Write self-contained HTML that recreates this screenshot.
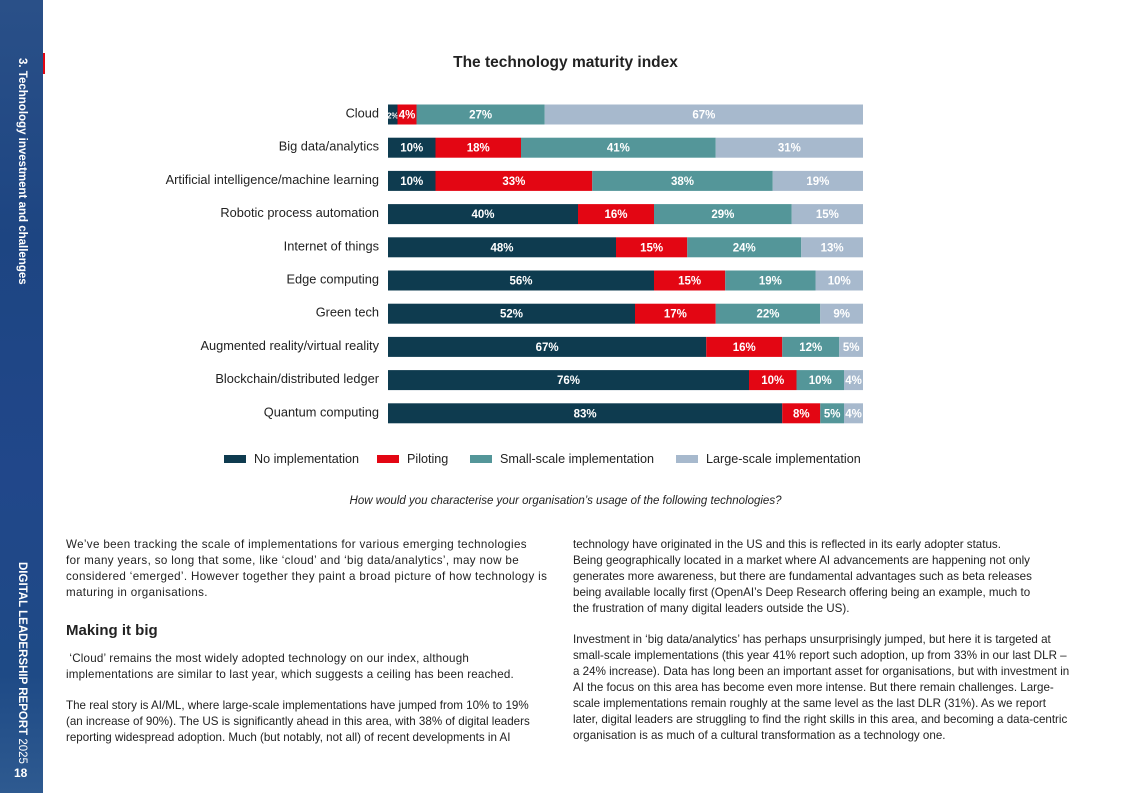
<!DOCTYPE html>
<html><head><meta charset="utf-8">
<style>
body{margin:0;width:1121px;height:793px;overflow:hidden;background:#fff;font-family:"Liberation Sans",sans-serif;color:#222;position:relative}
.side{position:absolute;left:0;top:0;width:43px;height:793px;background:linear-gradient(180deg,#2a5088 0%,#1d4582 30%,#21478a 60%,#1e4a86 85%,#2e5a90 100%)}
.vt{position:absolute;color:#fff;font-weight:bold;font-size:11.5px;writing-mode:vertical-rl;white-space:nowrap}
.p{position:absolute;font-size:11.6px;line-height:16px;color:#222}
.nw{white-space:nowrap}
</style></head><body>
<div class="side"></div>
<div class="vt" style="left:16px;top:58px">3. Technology investment and challenges</div>
<div class="vt" style="left:16px;top:562px">DIGITAL LEADERSHIP REPORT <span style="font-weight:normal">2025</span></div>
<div style="position:absolute;left:14px;top:766px;color:#fff;font-weight:bold;font-size:12px">18</div>
<div style="position:absolute;left:43px;top:53px;width:2px;height:21px;background:#e30613"></div>
<div style="position:absolute;left:0;width:1121px;top:54px;text-align:center;font-weight:bold;font-size:15.5px;padding-left:10px;box-sizing:border-box">The technology maturity index</div>
<svg id="chart" style="position:absolute;left:0;top:0" width="1121" height="480"></svg>
<div style="position:absolute;left:0;width:1121px;top:495px;text-align:center;font-style:italic;font-size:11.5px;padding-left:10px;box-sizing:border-box">How would you characterise your organisation’s usage of the following technologies?</div>
<div class="p nw" style="left:66px;top:537px;letter-spacing:0.35px">We’ve been tracking the scale of implementations for various emerging technologies<br>for many years, so long that some, like ‘cloud’ and ‘big data/analytics’, may now be<br>considered ‘emerged’. However together they paint a broad picture of how technology is<br>maturing in organisations.</div>
<div style="position:absolute;left:66px;top:622px;font-weight:bold;font-size:15px">Making it big</div>
<div class="p nw" style="left:66px;top:651px;letter-spacing:0.2px">&nbsp;‘Cloud’ remains the most widely adopted technology on our index, although<br>implementations are similar to last year, which suggests a ceiling has been reached.</div>
<div class="p nw" style="left:66px;top:698px">The real story is AI/ML, where large-scale implementations have jumped from 10% to 19%<br>(an increase of 90%). The US is significantly ahead in this area, with 38% of digital leaders<br>reporting widespread adoption. Much (but notably, not all) of recent developments in AI</div>
<div class="p nw" style="left:573px;top:537px">technology have originated in the US and this is reflected in its early adopter status.<br>Being geographically located in a market where AI advancements are happening not only<br>generates more awareness, but there are fundamental advantages such as beta releases<br>being available locally first (OpenAI’s Deep Research offering being an example, much to<br>the frustration of many digital leaders outside the US).</div>
<div class="p" style="left:573px;top:632px;width:500px">Investment in ‘big data/analytics’ has perhaps unsurprisingly jumped, but here it is targeted at small-scale implementations (this year 41% report such adoption, up from 33% in our last DLR – a 24% increase). Data has long been an important asset for organisations, but with investment in AI the focus on this area has become even more intense. But there remain challenges. Large-scale implementations remain roughly at the same level as the last DLR (31%). As we report later, digital leaders are struggling to find the right skills in this area, and becoming a data-centric organisation is as much of a cultural transformation as a technology one.</div>
<script>
const categories=["Cloud","Big data/analytics","Artificial intelligence/machine learning","Robotic process automation","Internet of things","Edge computing","Green tech","Augmented reality/virtual reality","Blockchain/distributed ledger","Quantum computing"];
const noImpl=[2,10,10,40,48,56,52,67,76,83];
const piloting=[4,18,33,16,15,15,17,16,10,8];
const smallScale=[27,41,38,29,24,19,22,12,10,5];
const largeScale=[67,31,19,15,13,10,9,5,4,4];
const seriesNames=["No implementation","Piloting","Small-scale implementation","Large-scale implementation"];
const colors=["#0e3b4f","#e30613","#549699","#a7b9cd"];
const svg=document.getElementById('chart');
const NS='http://www.w3.org/2000/svg';
const x0=388,x1=863,y0=104.5,step=33.2,bh=20;
const xs=v=>x0+v/100*(x1-x0);
const yb=i=>y0+i*step;
const series=[noImpl,piloting,smallScale,largeScale];
categories.forEach((c,i)=>{
  const t=document.createElementNS(NS,'text');
  t.setAttribute('x',379);t.setAttribute('y',yb(i)+bh/2+3);t.setAttribute('text-anchor','end');
  t.setAttribute('font-size','12.8');t.setAttribute('font-family','Liberation Sans, sans-serif');t.setAttribute('fill','#222');
  t.textContent=c;
  
  
  svg.appendChild(t);
  let acc=0;
  series.forEach((s,k)=>{
    const v=s[i];
    const r=document.createElementNS(NS,'rect');
    r.setAttribute('x',xs(acc));r.setAttribute('y',yb(i));r.setAttribute('width',xs(acc+v)-xs(acc));r.setAttribute('height',bh);r.setAttribute('fill',colors[k]);
    
    
    svg.appendChild(r);
    const l=document.createElementNS(NS,'text');
    l.setAttribute('x',(xs(acc)+xs(acc+v))/2);l.setAttribute('y',yb(i)+bh/2+4);l.setAttribute('text-anchor','middle');
    l.setAttribute('font-size',v<3?'8':'11.5');l.setAttribute('font-weight','bold');l.setAttribute('fill','#fff');l.setAttribute('font-family','Liberation Sans, sans-serif');
    l.textContent=v+'%';
    
    
    svg.appendChild(l);
    acc+=v;
  });
});
const legX=[224,377,470,676];
seriesNames.forEach((n,k)=>{
  const r=document.createElementNS(NS,'rect');
  r.setAttribute('x',legX[k]);r.setAttribute('y',455);r.setAttribute('width',22);r.setAttribute('height',8);r.setAttribute('fill',colors[k]);
  
  
  svg.appendChild(r);
  const t=document.createElementNS(NS,'text');
  t.setAttribute('x',legX[k]+30);t.setAttribute('y',463);t.setAttribute('font-size','12.6');t.setAttribute('fill','#222');t.setAttribute('font-family','Liberation Sans, sans-serif');
  t.textContent=n;
  
  
  svg.appendChild(t);
});
</script>
</body></html>
